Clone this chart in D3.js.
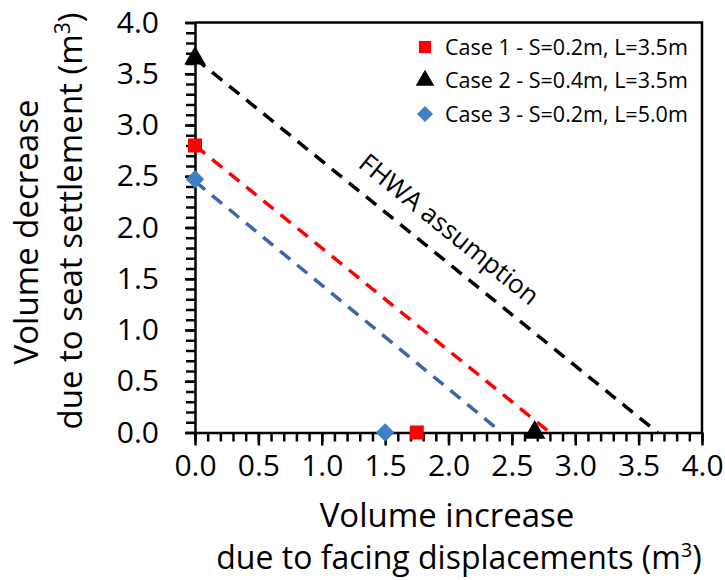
<!DOCTYPE html>
<html>
<head>
<meta charset="utf-8">
<script src="https://cdn.jsdelivr.net/npm/d3@7"></script>
<style>
  body { margin: 0; background: #fff; }
  text { font-family: "Open Sans", Lato, sans-serif; fill: #000; }
</style>
</head>
<body>
<div id="chart"></div>
<script>
(function(){
	var width = 725, height = 580;
	var margin = { top: 22.5, right: 23, bottom: 147.5, left: 195 };
	var w = width - margin.left - margin.right;
	var h = height - margin.top - margin.bottom;

	// data
	var caseNames = ["Case 1 - S=0.2m, L=3.5m", "Case 2 - S=0.4m, L=3.5m", "Case 3 - S=0.2m, L=5.0m"];
	var caseColors = ["#ff0000", "#000000", "#3f7fc4"];
	var caseShapes = ["square", "triangle", "diamond"];
	// points: [facing displacement, seat settlement]
	var case1Points = [[0, 2.8], [1.75, 0]];
	var case2Points = [[0, 3.65], [2.68, 0]];
	var case3Points = [[0, 2.47], [1.5, 0]];
	// dashed lines
	var case1Line = [[0, 2.8], [2.8, 0]];
	var fhwaLine = [[0, 3.65], [3.65, 0]];
	var case3Line = [[0, 2.45], [2.42, 0]];
	var lineColors = ["#ff0000", "#000000", "#3d65ad"];
	var ticks = [0, 0.5, 1, 1.5, 2, 2.5, 3, 3.5, 4];

	var svg = d3.select("#chart").append("svg")
		.attr("width", width).attr("height", height);
	var g = svg.append("g")
		.attr("transform", "translate(" + margin.left + "," + margin.top + ")");

	var x = d3.scaleLinear().domain([0, 4]).range([0, w]);
	var y = d3.scaleLinear().domain([0, 4]).range([h, 0]);
	var minor = d3.range(0, 41).map(function(d){ return d / 10; });

	// frame (top and right)
	g.append("path")
		.attr("d", "M0,0H" + w + "V" + h)
		.attr("fill", "none").attr("stroke", "#000").attr("stroke-width", 2.5);

	// minor ticks
	g.append("g").attr("transform", "translate(0," + h + ")")
		.call(d3.axisBottom(x).tickValues(minor).tickSize(9).tickFormat(""))
		.call(function(s){ s.select(".domain").remove(); s.selectAll("line").attr("stroke-width", 2.5); });
	g.append("g")
		.call(d3.axisLeft(y).tickValues(minor).tickSize(9).tickFormat(""))
		.call(function(s){ s.select(".domain").remove(); s.selectAll("line").attr("stroke-width", 2.5); });

	// major ticks + labels
	var xAxis = g.append("g").attr("transform", "translate(0," + h + ")")
		.call(d3.axisBottom(x).tickValues(ticks).tickSize(13).tickSizeOuter(0).tickPadding(9).tickFormat(d3.format(".1f")));
	xAxis.select(".domain").attr("stroke-width", 2.5);
	xAxis.selectAll("line").attr("stroke-width", 2.5);
	xAxis.selectAll("text").style("font-size", "30px").attr("fill", "#000");

	var yAxis = g.append("g")
		.call(d3.axisLeft(y).tickValues(ticks).tickSize(10).tickSizeOuter(0).tickPadding(26).tickFormat(d3.format(".1f")));
	yAxis.select(".domain").attr("stroke-width", 2.5);
	yAxis.selectAll("line").attr("stroke-width", 2.5);
	yAxis.selectAll("text").style("font-size", "30px").attr("fill", "#000");

	// dashed lines
	var line = d3.line().x(function(d){ return x(d[0]); }).y(function(d){ return y(d[1]); });
	[case1Line, fhwaLine, case3Line].forEach(function(l, i){
		g.append("path").datum(l)
			.attr("d", line)
			.attr("fill", "none")
			.attr("stroke", lineColors[i])
			.attr("stroke-width", 3.5)
			.attr("stroke-dasharray", "13,9");
	});

	// markers
	var symbolSizes = { square: 196, triangle: 200, diamond: 170 };
	function sym(shape, scale){
		var t = shape === "triangle" ? d3.symbolTriangle : d3.symbolSquare;
		return d3.symbol().type(t).size(symbolSizes[shape] * (scale || 1))();
	}
	function rot(shape){ return shape === "diamond" ? " rotate(45)" : ""; }
	[case1Points, case2Points, case3Points].forEach(function(pts, i){
		g.selectAll(".pt" + i).data(pts).enter().append("path")
			.attr("d", sym(caseShapes[i]))
			.attr("transform", function(d){
				return "translate(" + x(d[0]) + "," + y(d[1]) + ")" + rot(caseShapes[i]);
			})
			.attr("fill", caseColors[i]);
	});

	// FHWA label
	var ang = Math.atan2(y(0) - y(3.65), x(3.65) - x(0)) * 180 / Math.PI;
	g.append("text")
		.attr("transform", "translate(" + x(1.96) + "," + (y(1.69) - 23) + ") rotate(" + ang + ")")
		.attr("text-anchor", "middle")
		.style("font-size", "26px")
		.text("FHWA assumption");

	// legend
	var legend = g.append("g").attr("transform", "translate(" + (425 - margin.left) + "," + (47 - margin.top) + ")");
	caseNames.forEach(function(name, i){
		var row = legend.append("g").attr("transform", "translate(0," + (i * 33.5) + ")");
		row.append("path")
			.attr("d", sym(caseShapes[i], 0.75))
			.attr("transform", rot(caseShapes[i]) || null)
			.attr("fill", caseColors[i]);
		row.append("text")
			.attr("x", 20).attr("dy", "0.35em")
			.style("font-size", "21.5px")
			.text(name);
	});

	// axis titles
	svg.append("text")
		.attr("transform", "translate(38,232) rotate(-90)")
		.attr("text-anchor", "middle").style("font-size", "33px")
		.text("Volume decrease");
	var yt2 = svg.append("text")
		.attr("transform", "translate(82,221) rotate(-90)")
		.attr("text-anchor", "middle").style("font-size", "33px");
	yt2.append("tspan").text("due to seat settlement (m");
	yt2.append("tspan").attr("dy", -12).style("font-size", "21px").text("3");
	yt2.append("tspan").attr("dy", 12).text(")");

	svg.append("text")
		.attr("x", 447).attr("y", 527)
		.attr("text-anchor", "middle").style("font-size", "33px")
		.text("Volume increase");
	var xt2 = svg.append("text")
		.attr("x", 459).attr("y", 569)
		.attr("text-anchor", "middle").style("font-size", "32px");
	xt2.append("tspan").text("due to facing displacements (m");
	xt2.append("tspan").attr("dy", -12).style("font-size", "20px").text("3");
	xt2.append("tspan").attr("dy", 12).text(")");
})();
</script>
</body>
</html>
